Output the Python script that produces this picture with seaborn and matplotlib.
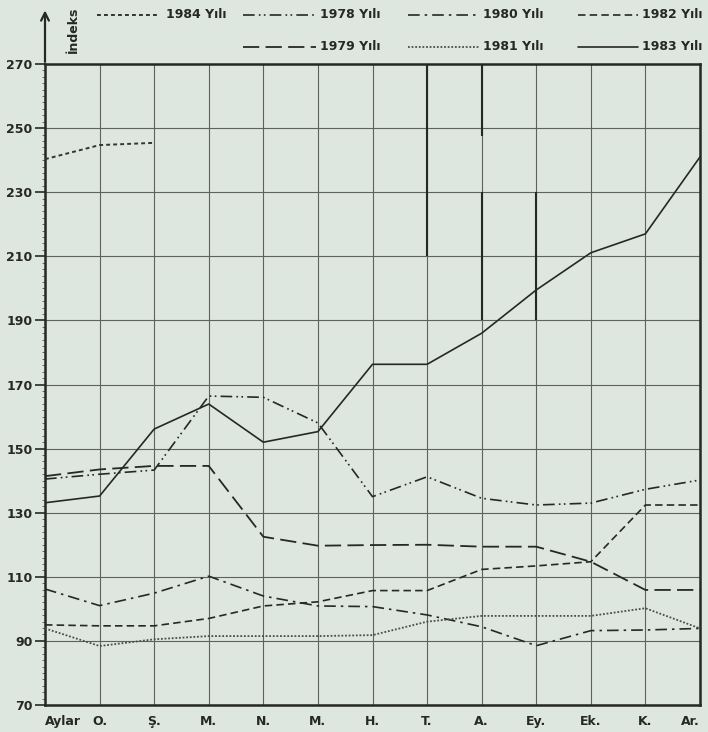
import numpy as np
import matplotlib
matplotlib.use("Agg")
import matplotlib.pyplot as plt
from matplotlib.lines import Line2D
from matplotlib.ticker import MultipleLocator
import seaborn as sns

# ---------------- data ----------------
month_labels = ["O.", "Ş.", "M.", "N.", "M.", "H.", "T.", "A.", "Ey.", "Ek.", "K.", "Ar."]
base_label = "Aylar"
y_ticks = [70, 90, 110, 130, 150, 170, 190, 210, 230, 250, 270]

s1978 = [140.5, 142.0, 143.3, 166.4, 166.0, 158.0, 135.0, 141.2, 134.5, 132.4, 133.0, 137.3, 140.2]
s1979 = [141.4, 143.5, 144.6, 144.6, 122.5, 119.7, 119.9, 120.0, 119.4, 119.4, 114.7, 105.9, 105.9]
s1980 = [106.2, 101.0, 104.9, 110.2, 104.0, 100.9, 100.7, 98.1, 94.4, 88.5, 93.2, 93.4, 93.9]
s1981 = [93.9, 88.4, 90.5, 91.5, 91.5, 91.5, 91.8, 96.0, 97.8, 97.8, 97.8, 100.2, 93.9]
s1982 = [95.0, 94.7, 94.7, 97.0, 100.9, 102.2, 105.7, 105.7, 112.3, 113.4, 114.7, 132.4, 132.4]
s1983 = [133.1, 135.2, 156.1, 163.9, 152.0, 155.3, 176.3, 176.3, 186.0, 199.5, 211.1, 217.0, 241.0]
s1984 = [240.3, 244.7, 245.4]

# stray vertical strokes visible in the scanned chart: (x index, y from, y to)
stray_x = [7, 8, 8, 9]
stray_y0 = [210, 247.5, 190, 190]
stray_y1 = [270, 270, 230, 230]

# ---------------- style ----------------
BG = "#dde6df"
INK = "#262826"
sns.set_theme(style="white")
plt.rcParams["font.family"] = ["DejaVu Sans"]
plt.rcParams["font.weight"] = "bold"

series = [
    ("1984 Yılı", s1984, (0, (2.0, 1.6)), 1.4, "#333533"),
    ("1978 Yılı", s1978, (0, (7, 2.5, 1, 2, 1, 2.5)), 1.2, INK),
    ("1980 Yılı", s1980, (0, (7, 3, 1.5, 3)), 1.2, INK),
    ("1982 Yılı", s1982, (0, (4.5, 2.5)), 1.2, INK),
    ("1979 Yılı", s1979, (0, (9, 3.5)), 1.3, INK),
    ("1981 Yılı", s1981, (0, (1, 1)), 1.3, "#4a4d4a"),
    ("1983 Yılı", s1983, "-", 1.2, INK),
]

fig = plt.figure(figsize=(7.08, 7.32), dpi=100, facecolor=BG)
W, H = 708, 732
ax = fig.add_axes([45 / W, 1 - 705 / H, (700 - 45) / W, (705 - 64) / H])
ax.set_facecolor(BG)

for name, vals, ls, lw, col in series:
    xs = np.arange(len(vals))
    sns.lineplot(x=xs, y=vals, ax=ax, color=col, linestyle=ls, linewidth=lw,
                 legend=False, zorder=3)

for xv, a, b in zip(stray_x, stray_y0, stray_y1):
    ax.vlines(xv, a, b, color=INK, lw=1.5, zorder=2)

ax.set_xlim(0, 12)
ax.set_ylim(70, 270)
ax.set_yticks(y_ticks)
ax.set_yticklabels([str(v) for v in y_ticks], fontsize=9, fontweight="bold", color=INK)
ax.yaxis.set_minor_locator(MultipleLocator(2))
ax.set_xticks(np.arange(1, 13))
ax.set_xticklabels(month_labels, fontsize=9, fontweight="bold", color=INK)
ax.get_xticklabels()[-1].set_horizontalalignment("right")
ax.set_xticks([0.32], [base_label], minor=True)
for t in ax.get_xticklabels(minor=True):
    t.set_fontsize(9)
    t.set_fontweight("bold")
    t.set_color(INK)

ax.grid(True, which="major", color="#5d625d", lw=0.8)
ax.tick_params(axis="y", which="major", direction="out", length=7, width=1.2,
               color=INK, pad=2, left=True)
ax.tick_params(axis="y", which="minor", direction="out", length=2, width=0.6,
               color="#555", left=True)
ax.tick_params(axis="x", which="both", length=0, pad=7)
for sp in ax.spines.values():
    sp.set_visible(True)
    sp.set_color(INK)
    sp.set_linewidth(1.8)
ax.set_xlabel("")
ax.set_ylabel("")

# y-axis arrow and label
ax.annotate("", xy=(0, 1.088), xycoords="axes fraction", xytext=(0, 0.999),
            arrowprops=dict(arrowstyle="->", lw=1.6, color=INK, mutation_scale=14))
fig.text(73 / W, 1 - 30 / H, "İndeks", rotation=90, ha="center", va="center",
         fontsize=9, fontweight="bold", color=INK)

# legend (manual layout as in the original)
leg_layout = {
    "1984 Yılı": (97, 157, 166, 15),
    "1978 Yılı": (243, 316, 320, 15),
    "1980 Yılı": (408, 479, 483, 15),
    "1982 Yılı": (578, 638, 642, 15),
    "1979 Yılı": (243, 316, 320, 47),
    "1981 Yılı": (408, 479, 483, 47),
    "1983 Yılı": (578, 638, 642, 47),
}
for name, vals, ls, lw, col in series:
    x0, x1, tx, yy = leg_layout[name]
    fy = 1 - yy / H
    fig.add_artist(Line2D([x0 / W, x1 / W], [fy, fy], transform=fig.transFigure,
                          color=col, linestyle=ls, linewidth=lw))
    fig.text(tx / W, fy, name, ha="left", va="center", fontsize=9,
             fontweight="bold", color=INK)

fig.savefig("out.png", dpi=100, facecolor=BG)
